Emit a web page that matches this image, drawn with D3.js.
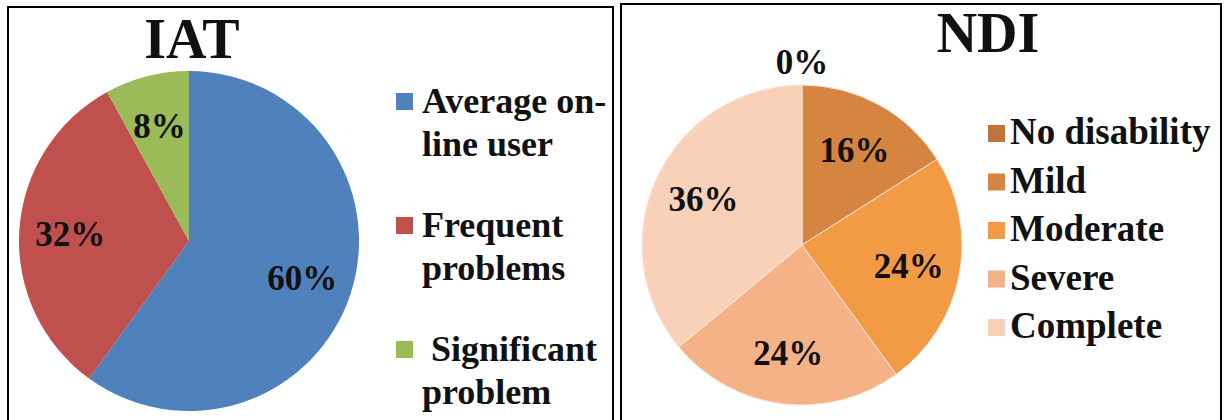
<!DOCTYPE html>
<html>
<head>
  <title>IAT / NDI</title>
  <script src="https://d3js.org/d3.v7.min.js"></script>
  <style>
    body { margin: 0; background: #fff; }
    text { font-family: "Liberation Serif", "Times New Roman", serif; font-weight: bold; fill: #111; }
  </style>
</head>
<body>
  <svg width="1226" height="420"></svg>

  <script>
    // datos
    const iatCategories = [["Average on-", "line user"], ["Frequent", "problems"], [" Significant", "problem"]];
    const iatValues = [60, 32, 8];
    const iatColors = ["#4f81bd", "#c0504d", "#9bbb59"];

    const ndiCategories = ["No disability", "Mild", "Moderate", "Severe", "Complete"];
    const ndiValues = [0, 16, 24, 24, 36];
    const ndiColors = ["#c2733b", "#d5853f", "#f39a45", "#f5b287", "#f9d1b9"];

    const svg = d3.select("svg");

    // marcos de los dos paneles
    svg.append("rect").attr("x", 8).attr("y", 7).attr("width", 605).attr("height", 430)
      .attr("fill", "none").attr("stroke", "#000").attr("stroke-width", 2);
    svg.append("rect").attr("x", 621).attr("y", 4).attr("width", 600).attr("height", 430)
      .attr("fill", "none").attr("stroke", "#000").attr("stroke-width", 2);

    const pie = d3.pie().sort(null).value(d => d);

    function drawPie(cfg) {
      const g = svg.append("g").attr("transform", `translate(${cfg.cx},${cfg.cy})`);
      const arcs = pie(cfg.values);
      const arc = d3.arc().innerRadius(0).outerRadius(cfg.r);
      const labelArc = d3.arc().innerRadius(cfg.r * cfg.lr).outerRadius(cfg.r * cfg.lr);

      g.selectAll(".slice")
        .data(arcs)
        .enter().append("path")
        .attr("class", "slice")
        .attr("d", arc)
        .attr("fill", (d, i) => cfg.colors[i])
        .attr("stroke", cfg.stroke)
        .attr("stroke-width", 1);

      g.selectAll(".label")
        .data(arcs)
        .enter().append("text")
        .attr("text-anchor", "middle")
        .attr("dy", "0.35em")
        .attr("transform", d => {
          if (d.data === 0) {
            // etiqueta del 0% fuera del pastel
            const a = d.startAngle, rr = cfg.r + 23;
            return `translate(${Math.sin(a) * rr},${-Math.cos(a) * rr})`;
          }
          const [x, y] = labelArc.centroid(d);
          return `translate(${x},${y})`;
        })
        .style("font-size", cfg.labelSize + "px")
        .text(d => d.data + "%");

      svg.append("text")
        .attr("x", cfg.titleX).attr("y", cfg.titleY)
        .attr("text-anchor", "middle")
        .style("font-size", "56px")
        .text(cfg.title);
    }

    drawPie({ cx: 189, cy: 241, r: 170, lr: 0.7, values: iatValues, colors: iatColors,
      stroke: "none", labelSize: 35, title: "IAT", titleX: 192, titleY: 58 });
    drawPie({ cx: 802, cy: 245, r: 160, lr: 0.68, values: ndiValues, colors: ndiColors,
      stroke: "#fbe6d8", labelSize: 35, title: "NDI", titleX: 988, titleY: 52 });

    // leyenda IAT (dos lineas por entrada)
    const iatLeg = svg.append("g").attr("transform", "translate(396,113)");
    const iatItems = iatLeg.selectAll("g")
      .data(iatCategories)
      .enter().append("g")
      .attr("transform", (d, i) => `translate(0,${i * 124})`);
    iatItems.append("rect")
      .attr("x", 0).attr("y", -20).attr("width", 17).attr("height", 17)
      .attr("fill", (d, i) => iatColors[i]);
    iatItems.append("text")
      .attr("x", 26)
      .style("font-size", "36px")
      .style("white-space", "pre")
      .selectAll("tspan")
      .data(d => d)
      .enter().append("tspan")
      .attr("x", 26)
      .attr("dy", (d, i) => i === 0 ? 0 : 43)
      .text(d => d);

    // leyenda NDI
    const ndiLeg = svg.append("g").attr("transform", "translate(988,144)");
    const ndiItems = ndiLeg.selectAll("g")
      .data(ndiCategories)
      .enter().append("g")
      .attr("transform", (d, i) => `translate(0,${i * 48.5})`);
    ndiItems.append("rect")
      .attr("x", 0).attr("y", -19).attr("width", 17).attr("height", 17)
      .attr("fill", (d, i) => ndiColors[i]);
    ndiItems.append("text")
      .attr("x", 22)
      .style("font-size", "37px")
      .text(d => d);
  </script>
</body>
</html>
